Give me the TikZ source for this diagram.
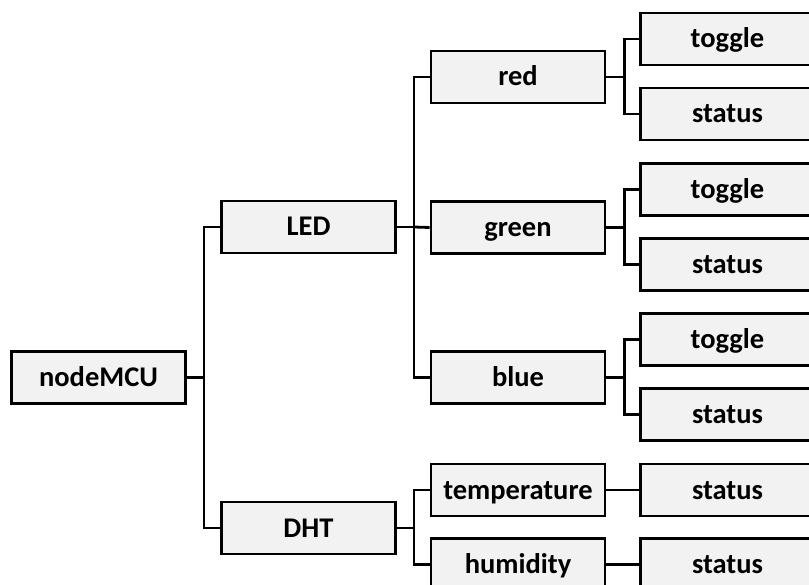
\documentclass[tikz,border=0pt]{standalone}
\usepackage{fontspec}
\setmainfont{Carlito}
\usepackage{xcolor}
\usetikzlibrary{calc,positioning}
\definecolor{boxfill}{HTML}{F2F2F2}
\newcommand{\BoxFont}{\fontsize{28.5}{32}\selectfont\bfseries}
\tikzset{
  item/.style={draw=black, fill=boxfill, line width=2.8pt, minimum width=174pt,
               minimum height=52pt, inner sep=0pt, text height=18pt, text depth=0pt,
               font=\BoxFont, anchor=center},
  wire/.style={draw=black, line width=2.8pt},
}

\begin{document}
\begin{tikzpicture}[x=1pt,y=-1pt]
  \useasboundingbox (0,0) rectangle (809,585);
  % root and first level
  \node[item] (mcu) at (98.5,377.5) {nodeMCU};
  \node[item] (led) at (308.5,227) {LED};
  \node[item] (dht) at (308.5,528) {DHT};
  % second level
  \node[item] (red) at (518,77) {red};
  \node[item] (green) at (518,227.5) {green};
  \node[item] (blue) at (518,377.5) {blue};
  \node[item] (temp) at (518,490) {temperature};
  \node[item] (hum) at (518,564.5) {humidity};
  % leaves
  \node[item] (rtog) at (727.5,39) {toggle};
  \node[item] (rstat) at (727.5,114) {status};
  \node[item] (gtog) at (727.5,189.5) {toggle};
  \node[item] (gstat) at (727.5,264.5) {status};
  \node[item] (btog) at (727.5,339.5) {toggle};
  \node[item] (bstat) at (727.5,414.5) {status};
  \node[item] (tstat) at (727.5,490) {status};
  \node[item] (hstat) at (727.5,564.5) {status};
  % connectors
  \draw[wire] (mcu.east) -- ++(17,0) coordinate (b0);
  \draw[wire] (b0) |- (led.west);
  \draw[wire] (b0) |- (dht.west);
  \draw[wire] (led.east) -- ++(17,0) coordinate (b1);
  \draw[wire] (b1) |- (red.west);
  \draw[wire] (b1) |- (blue.west);
  \draw[wire] (b1) -- (green.west);
  \draw[wire] (dht.east) -- ++(17,0) coordinate (b2);
  \draw[wire] (b2) |- (temp.west);
  \draw[wire] (b2) |- (hum.west);
  \draw[wire] (red.east) -- ++(18,0) coordinate (c1);
  \draw[wire] (c1) |- (rtog.west);
  \draw[wire] (c1) |- (rstat.west);
  \draw[wire] (green.east) -- ++(18,0) coordinate (c2);
  \draw[wire] (c2) |- (gtog.west);
  \draw[wire] (c2) |- (gstat.west);
  \draw[wire] (blue.east) -- ++(18,0) coordinate (c3);
  \draw[wire] (c3) |- (btog.west);
  \draw[wire] (c3) |- (bstat.west);
  \draw[wire] (temp) -- (tstat);
  \draw[wire] (hum) -- (hstat);
\end{tikzpicture}
\end{document}
